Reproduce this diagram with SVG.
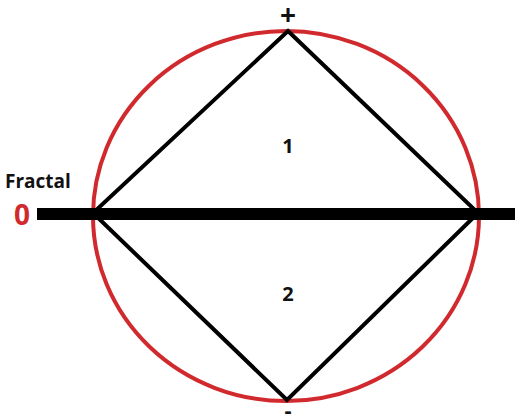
<svg xmlns="http://www.w3.org/2000/svg" width="515" height="420" viewBox="0 0 515 420">
<style>
.lbl{font-family:"Open Sans","Liberation Sans",sans-serif;font-weight:bold;fill:#111;}
</style>
<rect width="515" height="420" fill="#fff"/>
<g id="circle"><ellipse cx="286" cy="216" rx="193" ry="185" fill="none" stroke="#d12a2e" stroke-width="4"/></g>
<g id="connectors" stroke="#000" fill="none">
<polygon points="288,31 478,213 287,400 93,213" stroke-width="4" stroke-linejoin="miter"/>
<line x1="37" y1="214" x2="515" y2="214" stroke-width="12"/>
</g>
<g id="plus"><text class="lbl" x="288" y="25" font-size="28" text-anchor="middle">+</text></g>
<g id="minus"><text class="lbl" x="288" y="418" font-size="22" text-anchor="middle">-</text></g>
<g id="fractal"><text class="lbl" x="5" y="188" font-size="19">Fractal</text></g>
<g id="zero"><text x="22" y="225" font-size="28" font-weight="bold" text-anchor="middle" font-family="'Open Sans','Liberation Sans',sans-serif" fill="#d12a2e">0</text></g>
<g id="region1"><text class="lbl" x="288" y="153" font-size="20" text-anchor="middle">1</text></g>
<g id="region2"><text class="lbl" x="288" y="301" font-size="20" text-anchor="middle">2</text></g>
</svg>
